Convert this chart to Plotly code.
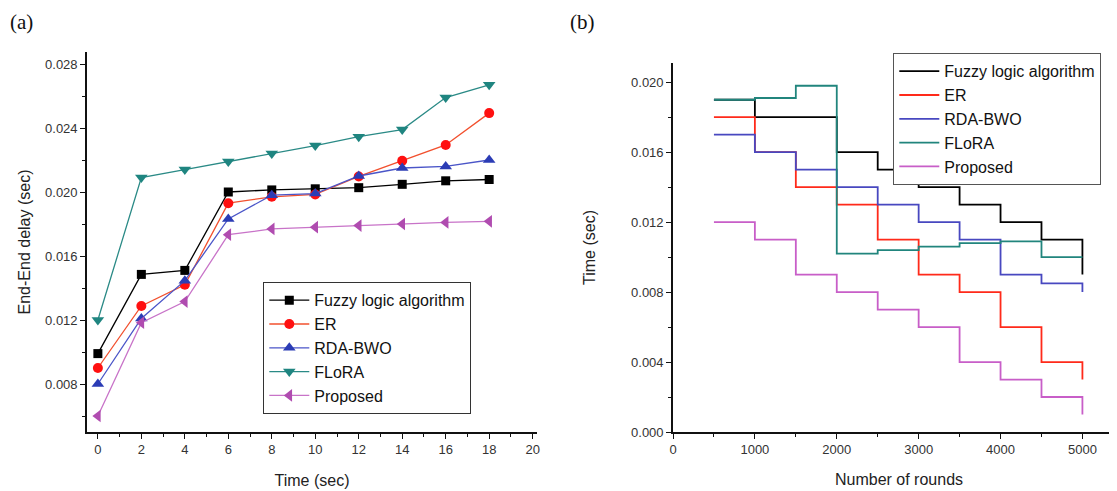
import plotly.graph_objects as go

# ---------------- data: panel (a) ----------------
time_sec = [0, 2, 4, 6, 8, 10, 12, 14, 16, 18]
a_fuzzy = [0.0099, 0.01485, 0.0151, 0.0200, 0.02013, 0.0202, 0.02027, 0.02048, 0.0207, 0.02078]
a_er = [0.0090, 0.01288, 0.0142, 0.01930, 0.01970, 0.01985, 0.02097, 0.02195, 0.02294, 0.02493]
a_rda = [0.0080, 0.0121, 0.01446, 0.01832, 0.0198, 0.0199, 0.0210, 0.0215, 0.0216, 0.0220]
a_flora = [0.0120, 0.0209, 0.0214, 0.0219, 0.0224, 0.0229, 0.02346, 0.0239, 0.0259, 0.0267]
a_proposed = [0.0060, 0.01183, 0.01315, 0.01733, 0.01769, 0.0178, 0.0179, 0.0180, 0.0181, 0.01817]

# ---------------- data: panel (b) ----------------
rounds = [500, 1000, 1500, 2000, 2500, 3000, 3500, 4000, 4500, 5000]
b_fuzzy = [0.019, 0.018, 0.018, 0.016, 0.015, 0.014, 0.013, 0.012, 0.011, 0.009]
b_er = [0.018, 0.016, 0.014, 0.013, 0.011, 0.009, 0.008, 0.006, 0.004, 0.003]
b_rda = [0.017, 0.016, 0.015, 0.014, 0.013, 0.012, 0.011, 0.009, 0.0085, 0.008]
b_flora = [0.019, 0.0191, 0.0198, 0.0102, 0.0104, 0.0106, 0.0108, 0.0109, 0.0100, 0.0100]
b_proposed = [0.012, 0.011, 0.009, 0.008, 0.007, 0.006, 0.004, 0.003, 0.002, 0.001]

names = ["Fuzzy logic algorithm", "ER", "RDA-BWO", "FLoRA", "Proposed"]

# ---------------- styles ----------------
a_line_colors = ["#000000", "#f2502e", "#4a55c8", "#2a8a86", "#c873c8"]
a_marker_colors = ["#000000", "#ff1010", "#2b3cb5", "#1f8580", "#b04cb0"]
a_symbols = ["square", "circle", "triangle-up", "triangle-down", "triangle-left"]
a_sizes = [9, 10, 11, 11, 11]
b_colors = ["#000000", "#ff2a1a", "#4848c0", "#21857d", "#c85ec8"]

FONT = "Liberation Sans, Arial, sans-serif"
W, H = 1117, 491
OFF = 8  # page body margin offset

fig = go.Figure()

a_series = [a_fuzzy, a_er, a_rda, a_flora, a_proposed]
for name, ys, lc, mc, sym, sz in zip(names, a_series, a_line_colors, a_marker_colors, a_symbols, a_sizes):
    fig.add_trace(go.Scatter(
        x=time_sec, y=ys, name=name, mode="lines+markers",
        line=dict(color=lc, width=1.3),
        marker=dict(color=mc, symbol=sym, size=sz, line=dict(width=0)),
        xaxis="x", yaxis="y", legend="legend",
    ))

b_series = [b_fuzzy, b_er, b_rda, b_flora, b_proposed]
for name, ys, c in zip(names, b_series, b_colors):
    fig.add_trace(go.Scatter(
        x=rounds, y=ys, name=name, mode="lines",
        line=dict(color=c, width=1.8, shape="hv"),
        xaxis="x2", yaxis="y2", legend="legend2",
    ))

def px_x(p):
    return (p - OFF) / W

def px_y(p):
    return (H - (p - OFF)) / H

axis_common = dict(
    showline=True, linecolor="#111111", linewidth=1.6, mirror=False,
    showgrid=False, zeroline=False,
    ticks="outside", ticklen=5, tickwidth=1.3, tickcolor="#111111",
    tickfont=dict(family=FONT, size=13, color="#333333"),
    minor=dict(ticks="outside", ticklen=3, tickwidth=1.2, tickcolor="#111111", showgrid=False),
)

fig.update_layout(
    width=W, height=H,
    margin=dict(l=0, r=0, t=0, b=0, autoexpand=False),
    paper_bgcolor="white", plot_bgcolor="white",
    showlegend=True,
    xaxis=dict(domain=[px_x(87), px_x(537)], range=[-0.5, 20.2], anchor="y",
               tickvals=list(range(0, 21, 2)), minor_dtick=1,
               title=dict(text="Time (sec)", font=dict(family=FONT, size=16, color="#222222"), standoff=18),
               **axis_common),
    yaxis=dict(domain=[px_y(432), px_y(52)], range=[0.005, 0.02875], anchor="x",
               tick0=0, dtick=0.004, tickformat=".3f", minor_dtick=0.002,
               title=dict(text="End-End delay (sec)", font=dict(family=FONT, size=16, color="#222222"), standoff=10),
               **axis_common),
    xaxis2=dict(domain=[px_x(673), 1.0], range=[0, 5520], anchor="y2",
                tick0=0, dtick=1000, minor_dtick=500,
                title=dict(text="Number of rounds", font=dict(family=FONT, size=16, color="#222222"), standoff=17),
                **axis_common),
    yaxis2=dict(domain=[px_y(432), px_y(63)], range=[0, 0.0211], anchor="x2",
                tick0=0, dtick=0.004, tickformat=".3f", minor_dtick=0.002,
                title=dict(text="Time (sec)", font=dict(family=FONT, size=16, color="#222222"), standoff=31),
                **axis_common),
    legend=dict(x=px_x(263), y=px_y(282), xanchor="left", yanchor="top",
                bgcolor="white", bordercolor="#333333", borderwidth=1.3,
                font=dict(family=FONT, size=16, color="#111111"),
                tracegroupgap=0, itemwidth=40),
    legend2=dict(x=px_x(893), y=px_y(53), xanchor="left", yanchor="top",
                 bgcolor="white", bordercolor="#555555", borderwidth=1.3,
                 font=dict(family=FONT, size=16, color="#111111"),
                 tracegroupgap=0, itemwidth=40),
    annotations=[
        dict(text="(a)", x=px_x(8), y=px_y(22), xref="paper", yref="paper",
             xanchor="left", yanchor="middle", showarrow=False,
             font=dict(family="Liberation Serif, Times New Roman, serif", size=21, color="#111111")),
        dict(text="(b)", x=px_x(568), y=px_y(22), xref="paper", yref="paper",
             xanchor="left", yanchor="middle", showarrow=False,
             font=dict(family="Liberation Serif, Times New Roman, serif", size=21, color="#111111")),
    ],
)

fig.write_html("out.html")
